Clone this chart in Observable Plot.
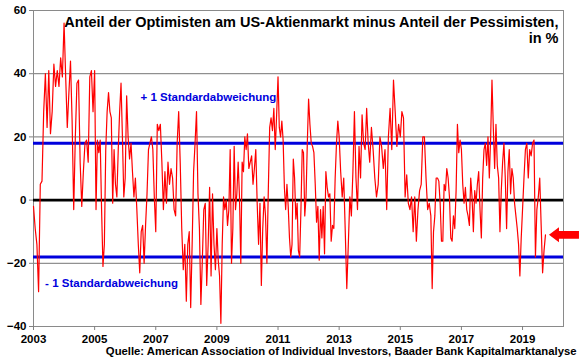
<!DOCTYPE html>
<html><head><meta charset="utf-8">
<script src="https://cdn.jsdelivr.net/npm/d3@7"></script>
<script src="https://cdn.jsdelivr.net/npm/@observablehq/plot@0.6"></script>
<style>html,body{margin:0;padding:0;background:#fff;} svg{display:block}</style>
</head><body><div id="chart"></div>
<script>
// AAII Bull-Bear-Spread (Anteil Optimisten minus Anteil Pessimisten, in %)
const s2003 = [-2, -9, -14, -29, 5, 6, 28, 40, 23, 41, 21, 28, 43, 36, 41, 36, 45, 39];
const s2004 = [56, 39, 23, 34, 44, 25, -3, 20, 37, 38, 12, -2, 9, 18, 19, 12, 39, 41, 28];
const s2005 = [41, -3, 19, 15, 19, -3, -21, -14, 16, 28, 34, 28, 26, -1, 16, 5, 1, 16, 28, 37, 20, 1];
const s2006 = [7, 33, 20, 13, 18, 9, 1, 7, -3, -14, -23, -10, -8, -20, -8, 2, 16, 18, 20, 16, 1];
const s2007 = [-10, 24, 22, 24, 12, -3, 9, -1, 12, 5, 10, 7, -3, -5, 18, 28, 12, -9, -22, -14];
const s2008 = [-32, -14, -10, -34, -14, 9, 18, 28, 2, -9, -33, -19, -3, -1, -27, -14, 4, -24, 2, -14, -22];
const s2009 = [-9, -19, -24, -39, -14, 1, -3, 0, -8, -3, 16, -20, -9, 17, -3, 2, 12, 1, -20, 12, 9, 20, 16];
const s2010 = [21, 10, 12, 14, 5, 10, 16, -1, -14, -1, -27, -9, 1, -5, -20, 3, 23, 26, 22, 29, 16, 27];
const s2011 = [39, 23, 20, 25, 19, 4, -3, 5, -2, -12, -18, -14, 13, 7, -6, -1, -16, -18, -3, 16, 15, -5, 1, 18];
const s2012 = [32, 24, 18, 17, 15, 5, -7, -2, -19, -3, -12, -2, -17, 9, 4, 1, 2, -13, -8, -9, 7, 18, 25];
const s2013 = [20, 9, 1, 7, -10, -28, -14, 1, -5, 9, 28, 7, -3, 17, 7, 27, 18, 16, 29, 18];
const s2014 = [12, 23, 16, 7, 1, 5, 20, 17, 10, 16, -3, 20, 29, 16, 38, 28, 17, 24];
const s2015 = [20, 28, 26, 1, 8, -1, -3, 1, -10, 1, -13, -3, 3, 5, 20, 20, 7, -3, -1];
const s2016 = [-5, -28, -10, -5, 7, 7, 6, -1, -13, -13, 5, 3, 10, 7, 1, -12, -13, -5, -9, 3, 24, 15, 19];
const s2017 = [16, 5, -1, 4, -3, -5, -8, 7, 1, -10, 3, -1, 5, 9, -3, -12, 7, 16, 18, 11, 20, 7, 20];
const s2018 = [38, 23, 10, 24, 11, 7, -10, 3, 12, 18, 7, -9, 9, 16, 2, 10, 7, -1, -5, -9, -14, -24, -12];
const s2019 = [-3, 7, 16, 18, 7, 16, 14, 18, 19, -18, -3, 1, 7, -8, -23, -16, -11];
const lastDate = 2019.75;      // letzte Beobachtung
const xEnd = 2020.34;          // Ende der Zeitachse
const stdDev = 18;             // ±1 Standardabweichung
const xTicks = [2003, 2005, 2007, 2009, 2011, 2013, 2015, 2017, 2019];
const yTicks = [-40, -20, 0, 20, 40, 60];
const gridValues = [-20, 20, 40];
const titleLines = ["Anteil der Optimisten am US-Aktienmarkt minus Anteil der Pessimisten,", "in %"];
const sourceText = "Quelle: American Association of Individual Investors, Baader Bank Kapitalmarktanalyse";
const bandLabels = [
  {label: "+ 1 Standardabweichung", t: 2006.5, v: 32.5},
  {label: "- 1 Standardabweichung", t: 2003.38, v: -26.3}
];

const yearly = [[2003, s2003], [2004, s2004], [2005, s2005], [2006, s2006], [2007, s2007], [2008, s2008],
  [2009, s2009], [2010, s2010], [2011, s2011], [2012, s2012], [2013, s2013], [2014, s2014],
  [2015, s2015], [2016, s2016], [2017, s2017], [2018, s2018], [2019, s2019]];
const series = [];
for (const [yr, vals] of yearly) {
  const last = yr === 2019;
  const span = last ? lastDate - yr : 1;
  const n = last ? vals.length - 1 : vals.length;
  vals.forEach((v, i) => series.push({t: yr + i * span / n, v}));
}
const endPoint = [series[series.length - 1]];

const arrowSymbol = {
  draw(ctx, size) {
    const s = Math.sqrt(size / Math.PI) / 7;
    ctx.moveTo(-15 * s, 0);
    ctx.lineTo(-5 * s, -7.5 * s);
    ctx.lineTo(-5 * s, -3.8 * s);
    ctx.lineTo(15 * s, -3.8 * s);
    ctx.lineTo(15 * s, 3.8 * s);
    ctx.lineTo(-5 * s, 3.8 * s);
    ctx.lineTo(-5 * s, 7.5 * s);
    ctx.closePath();
  }
};

const font = "'Liberation Sans', Arial, Helvetica, sans-serif";
const red = "#ff0000", blue = "#0000dd";

const chart = Plot.plot({
  width: 580, height: 359,
  marginLeft: 33, marginRight: 17, marginTop: 10, marginBottom: 33,
  style: {fontFamily: font, fontWeight: "bold", fontSize: "11.5px", color: "#000", background: "#fff", overflow: "visible"},
  x: {domain: [2003, xEnd], label: null},
  y: {domain: [-40, 60], label: null},
  marks: [
    Plot.ruleY(gridValues, {stroke: "#666", strokeWidth: 0.9}),
    Plot.frame({stroke: "#8a8a8a", strokeWidth: 1}),
    Plot.ruleY([stdDev, -stdDev], {stroke: blue, strokeWidth: 3}),
    Plot.ruleY([0], {stroke: "#000", strokeWidth: 2.6}),
    Plot.line(series, {x: "t", y: "v", stroke: red, strokeWidth: 1.2, strokeLinejoin: "round"}),
    Plot.axisX({ticks: xTicks, tickFormat: d => String(d), tickSize: 4, tickPadding: 4, stroke: "#808080", fill: "#000", fontSize: 11.5, fontWeight: "bold", label: null}),
    Plot.axisY({ticks: yTicks, tickSize: 4, tickPadding: 3, stroke: "#808080", fill: "#000", fontSize: 11.5, fontWeight: "bold", label: null}),
    Plot.text(bandLabels, {x: "t", y: "v", text: "label", textAnchor: "start", fill: blue, fontSize: 11.5, fontWeight: "bold"}),
    Plot.text([titleLines.join("\n")], {frameAnchor: "top-right", textAnchor: "end", lineAnchor: "top", lineHeight: 1.1, dx: -5, dy: 5.5, fontSize: 14.5, fontWeight: "bold", fill: "#000"}),
    Plot.text([sourceText], {frameAnchor: "bottom-right", textAnchor: "end", lineAnchor: "middle", dx: 13, dy: 25, fontSize: 11.3, fontWeight: "bold", fill: "#000"}),
    Plot.dot(endPoint, {x: "t", y: "v", symbol: arrowSymbol, r: 7, fill: red, stroke: "none", dx: 18.5})
  ]
});
document.getElementById("chart").appendChild(chart);
</script>
</body></html>
